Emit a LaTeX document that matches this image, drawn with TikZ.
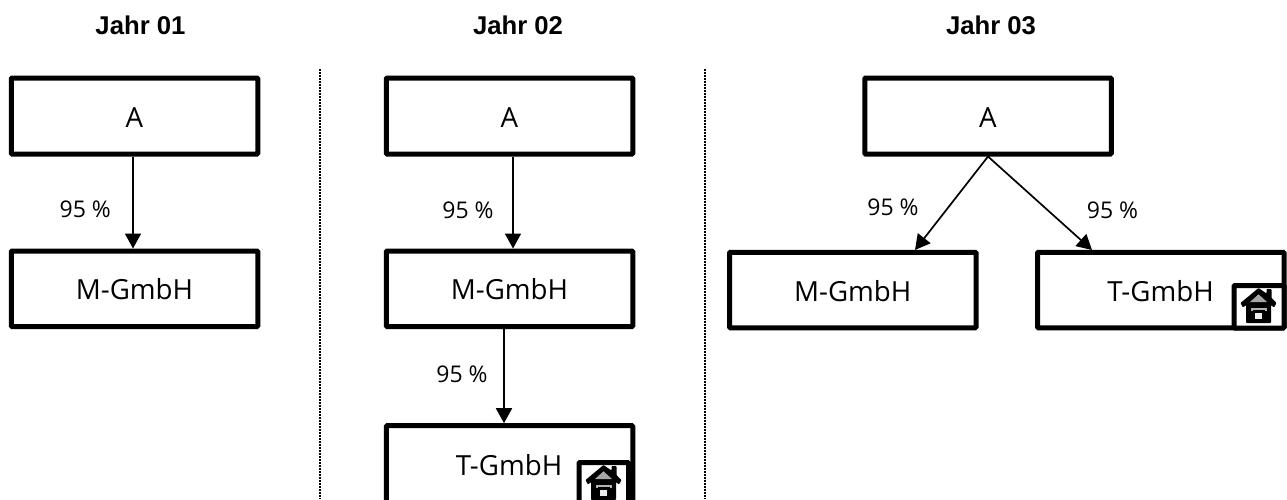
\documentclass[tikz,border=0pt]{standalone}
\usepackage{fontspec}
\setmainfont{Open Sans}
\newfontfamily\titlefont{Liberation Sans}
\usetikzlibrary{arrows.meta}
\tikzset{
  x=1pt,y=-1pt,
  firm/.style={draw=black,line width=5pt,rounded corners=1pt,minimum width=246.5pt,inner sep=0pt,font=\fontsize{27.7}{32}\selectfont,text height=22pt,text depth=0pt,fill=white},
  topbox/.style={firm,minimum height=76pt},
  lowbox/.style={firm,minimum height=75.5pt},
  firmtext/.style={font=\fontsize{27.7}{32}\selectfont,inner sep=0pt,text height=20pt,text depth=0pt},
  yeartitle/.style={font=\titlefont\bfseries\fontsize{25.7}{30}\selectfont,inner sep=0pt},
  pct/.style={font=\fontsize{23}{28}\selectfont,inner sep=0pt},
  link/.style={draw=black,line width=1.7pt,-{Triangle[length=15pt,width=16pt]}},
  sep/.style={draw=black,line width=2pt,dash pattern=on 1.7pt off 1.3pt},
  iconframe/.style={draw=black,line width=5pt,rounded corners=1pt,fill=white},
  pics/house/.style={code={
    \fill[black,rounded corners=0.8pt] (0,-17) -- (8,-11.5) -- (8,-16) -- (13,-16) -- (13,-7) -- (18,-2) -- (15.5,2.5) -- (12.5,0) -- (12.5,18) -- (-12.5,18) -- (-12.5,0) -- (-15.5,2.5) -- (-18,-2) -- cycle;
    \fill[gray!70] (0,-10.7) -- (-8.5,-3) -- (8.5,-3) -- cycle;
    \fill[gray!60] (-8,3) rectangle (8,6);
    \fill[black] (-6,5) rectangle (6,18);
    \fill[gray!15] (-3.2,7.5) rectangle (3.2,14);
  }}
}
\begin{document}
\begin{tikzpicture}
\useasboundingbox (0,0) rectangle (1287,499);
\clip (0,0) rectangle (1287,499);
\node[yeartitle] (t1) at (140.5,25.5) {Jahr 01};
\node[yeartitle] (t2) at (518,25.5) {Jahr 02};
\node[yeartitle] (t3) at (991,25.5) {Jahr 03};
\coordinate (s1a) at (320,69); \coordinate (s1b) at (320,499);
\coordinate (s2a) at (705,69); \coordinate (s2b) at (705,499);
\draw[sep] (s1a) -- (s1b);
\draw[sep] (s2a) -- (s2b);
% Jahr 01
\node[topbox] (a1) at (134.5,116) {A};
\node[lowbox] (m1) at (134.5,288.75) {M-GmbH};
\draw[link] (a1.south -| 133,0) -- (m1.north -| 133,0);
\node[pct] (p1) at (85.3,209.5) {95 \%};
% Jahr 02
\node[topbox] (a2) at (509.5,116) {A};
\node[lowbox] (m2) at (509.5,288.75) {M-GmbH};
\node[firm,minimum height=90pt] (b2) at (509.5,470.7) {};
\node[firmtext] (tx2) at (509,465) {T-GmbH};
\draw[link] (a2.south -| 513,0) -- (m2.north -| 513,0);
\draw[link] (m2.south -| 504,0) -- (b2.north -| 504,0);
\node[pct] (p2) at (468,210) {95 \%};
\node[pct] (p3) at (462,374) {95 \%};
\node[iconframe,minimum width=49.5pt,minimum height=80pt] (f2) at (603.75,502.5) {};
\pic at (603.5,482) {house};
% Jahr 03
\node[topbox] (a3) at (988,116) {A};
\node[lowbox] (m3) at (852.75,290) {M-GmbH};
\node[lowbox] (b3) at (1160.75,290) {};
\node[firmtext] (tx3) at (1160.5,291) {T-GmbH};
\draw[link] (a3.south) -- (915,250);
\draw[link] (a3.south) -- (1092,250);
\node[pct] (p4) at (893,207) {95 \%};
\node[pct] (p5) at (1112.5,210.5) {95 \%};
\node[iconframe,minimum width=50pt,minimum height=42.5pt] (f3) at (1259,306.75) {};
\pic at (1258.5,305) {house};
\end{tikzpicture}
\end{document}
